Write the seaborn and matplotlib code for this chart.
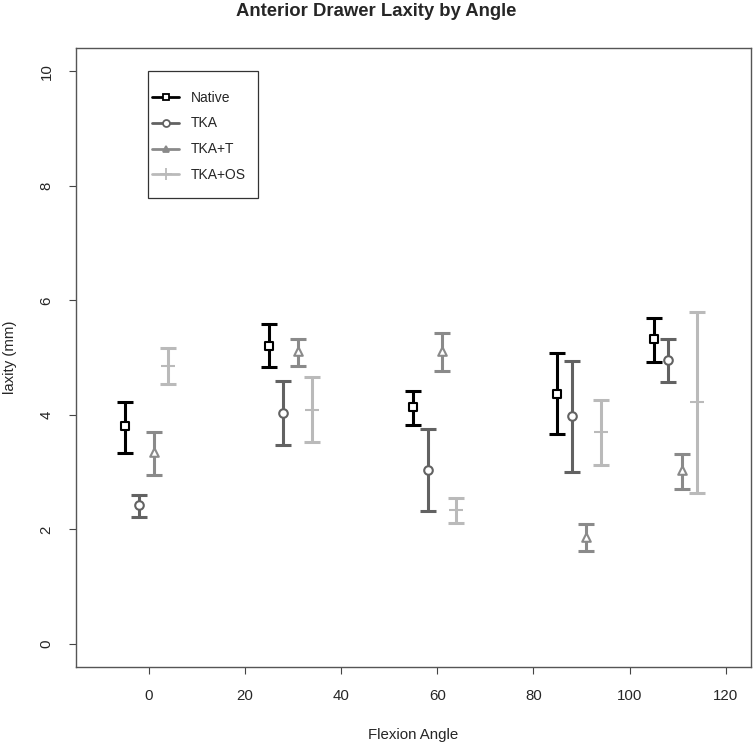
import numpy as np
import pandas as pd
import matplotlib
matplotlib.use("Agg")
import matplotlib.pyplot as plt
import seaborn as sns
from matplotlib.lines import Line2D
from matplotlib.patches import Rectangle

# data
angles = [0, 30, 60, 90, 110]
groups = ["Native", "TKA", "TKA+T", "TKA+OS"]
offsets = [-5, -2, 1, 4]

native_mean = [3.80, 5.21, 4.13, 4.37, 5.32]
native_lo = [3.34, 4.83, 3.83, 3.67, 4.93]
native_hi = [4.23, 5.59, 4.42, 5.08, 5.70]

tka_mean = [2.42, 4.03, 3.03, 3.98, 4.96]
tka_lo = [2.22, 3.48, 2.32, 3.01, 4.58]
tka_hi = [2.60, 4.60, 3.76, 4.94, 5.33]

tkat_mean = [3.35, 5.12, 5.12, 1.87, 3.03]
tkat_lo = [2.95, 4.85, 4.76, 1.62, 2.70]
tkat_hi = [3.70, 5.33, 5.43, 2.10, 3.32]

tkaos_mean = [4.85, 4.08, 2.33, 3.70, 4.22]
tkaos_lo = [4.54, 3.52, 2.11, 3.12, 2.63]
tkaos_hi = [5.16, 4.66, 2.55, 4.26, 5.80]

means = [native_mean, tka_mean, tkat_mean, tkaos_mean]
los = [native_lo, tka_lo, tkat_lo, tkaos_lo]
his = [native_hi, tka_hi, tkat_hi, tkaos_hi]

colors = ["#000000", "#626262", "#8a8a8a", "#bababa"]
markers = ["s", "o", "^", "+"]

rows = []
for g, off, m, lo, hi in zip(groups, offsets, means, los, his):
    for a, mv, lv, hv in zip(angles, m, lo, hi):
        rows.append({"group": g, "x": a + off, "mean": mv, "lo": lv, "hi": hv})
df = pd.DataFrame(rows)

sns.set_style("white")
plt.rcParams['font.family'] = ['Liberation Sans', 'DejaVu Sans']

W, H = 753, 745
fig = plt.figure(figsize=(W / 100, H / 100), dpi=100)
ax = fig.add_axes([0.1005, 0.105, 0.8965, 0.830])

for g, c, mk in zip(groups, colors, markers):
    d = df[df.group == g]
    ax.errorbar(d.x, d["mean"], yerr=[d["mean"] - d.lo, d.hi - d["mean"]],
                fmt="none", ecolor=c, elinewidth=2.2, capsize=5.5, capthick=2.2, zorder=2)
    if mk == "+":
        sns.scatterplot(data=d, x="x", y="mean", marker="_", s=100, color=c,
                        linewidth=1.5, ax=ax, zorder=3, legend=False)
    else:
        sns.scatterplot(data=d, x="x", y="mean", marker=mk, s=38, facecolor="white",
                        edgecolor=c, linewidth=1.5, ax=ax, zorder=3, legend=False)

ax.set_xlim(-15.2, 125.2)
ax.set_ylim(-0.4, 10.4)
ax.set_xticks([0, 20, 40, 60, 80, 100, 120])
ax.set_yticks([0, 2, 4, 6, 8, 10])
for lab in ax.get_yticklabels():
    lab.set_rotation(90)
    lab.set_va("center")
ax.tick_params(axis="both", which="both", direction="out", length=5, width=0.8,
               color="#444444", labelsize=10.8, pad=11, bottom=True, left=True)
for s in ax.spines.values():
    s.set_color("#555555")
    s.set_linewidth(1.0)

ax.set_xlabel("Flexion Angle", fontsize=10.8, labelpad=18)
ax.set_ylabel("laxity (mm)", fontsize=10.8, labelpad=16)
fig.suptitle("Anterior Drawer Laxity by Angle", fontsize=13.3, fontweight="bold", y=0.996)

# legend box drawn separately, entries placed inside it
fig.add_artist(Rectangle((148 / W, 1 - 198 / H), 110 / W, 127 / H, transform=fig.transFigure,
                         fill=True, facecolor="white", edgecolor="#333333", linewidth=0.9,
                         zorder=4))
handles = []
for g, c, mk in zip(groups, colors, markers):
    handles.append(Line2D([0], [0], color=c, lw=2.0, marker=mk,
                          markersize=5 if mk != "+" else 9,
                          markerfacecolor="white" if mk in ("s", "o") else c,
                          markeredgecolor=c, markeredgewidth=1.3))
leg = fig.legend(handles, groups, loc="upper left", bbox_to_anchor=(152 / W, 1 - 90.5 / H),
                 bbox_transform=fig.transFigure, fontsize=10, frameon=False,
                 handlelength=1.95, handletextpad=0.85, labelspacing=0.86,
                 borderpad=0, borderaxespad=0)
leg.set_zorder(5)

fig.savefig("out.png", dpi=100)
